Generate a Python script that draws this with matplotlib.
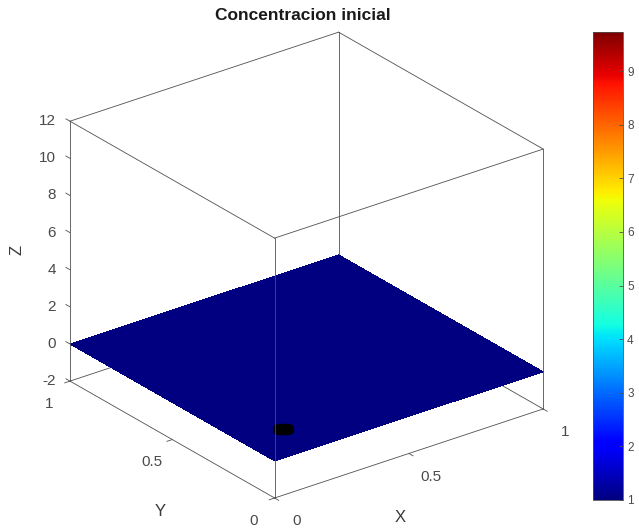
import numpy as np
import matplotlib
matplotlib.use("Agg")
import matplotlib.pyplot as plt
from matplotlib import colors, cm
from matplotlib.path import Path
from mpl_toolkits.mplot3d import proj3d

# ---------------- data ----------------
x_grid = [0.0, 1.0]
y_grid = [0.0, 1.0]
z_surface = [[0.0, 0.0], [0.0, 0.0]]
surface_value = 1.0            # colour value of the flat surface (colormap minimum)
source_x = [0.15]              # small dark spot on the surface
source_y = [0.155]
source_z = [0.0]
x_ticks = [0, 0.5, 1]
y_ticks = [0, 0.5, 1]
z_ticks = [-2, 0, 2, 4, 6, 8, 10, 12]
x_tick_labels = ["0", "0.5", "1"]
y_tick_labels = ["0", "0.5", "1"]
z_tick_labels = ["-2", "0", "2", "4", "6", "8", "10", "12"]
cbar_min, cbar_max = 1.0, 9.73
cbar_ticks = [1, 2, 3, 4, 5, 6, 7, 8, 9]
title_text = "Concentracion inicial"

plt.rcParams["font.family"] = ["Liberation Sans", "DejaVu Sans"]

W, H = 639, 529
fig = plt.figure(figsize=(W / 100, H / 100), dpi=100)
fig.patch.set_facecolor("white")

ax = fig.add_axes([0.05, 0.05, 0.8 * H / W, 0.8], projection="3d",
                  proj_type="ortho", computed_zorder=False)
ax.view_init(elev=25.8, azim=-127.3)
ax.set_box_aspect((1, 1, 0.855))
ax.set_xlim(x_grid[0], x_grid[-1])
ax.set_ylim(y_grid[0], y_grid[-1])
ax.set_zlim(z_ticks[0], z_ticks[-1])
ax.set_axis_off()

# ---- fit the projected box to the layout of the reference ----
def to_px(x, y, z):
    xs, ys, _ = proj3d.proj_transform(x, y, z, ax.get_proj())
    return ax.transData.transform((xs, ys))

fig.canvas.draw()
pos = ax.get_position()
S0 = pos.width * W
O0 = np.array([pos.x0 * W, pos.y0 * H])
xmin, xmax = ax.get_xlim(); ymin, ymax = ax.get_ylim(); zmin, zmax = ax.get_zlim()
corners = {
    "left": (xmin, ymax, zmax), "right": (xmax, ymin, zmax),
    "back": (xmax, ymax, zmax), "front": (xmin, ymin, zmin),
}
f = {k: (to_px(*v) - O0) / S0 for k, v in corners.items()}
tgt_left_x, tgt_right_x = 70, 543
tgt_top_y, tgt_bottom_y = H - 32, H - 498
S1 = 0.5 * ((tgt_right_x - tgt_left_x) / (f["right"][0] - f["left"][0]) +
            (tgt_top_y - tgt_bottom_y) / (f["back"][1] - f["front"][1]))
Ox = tgt_left_x - S1 * f["left"][0]
Oy = tgt_bottom_y - S1 * f["front"][1]
ax.set_position([Ox / W, Oy / H, S1 / W, S1 / H])

# ---------------- surface ----------------
cmap = plt.get_cmap("jet")
norm = colors.Normalize(vmin=cbar_min, vmax=cbar_max)
X, Y = np.meshgrid(x_grid, y_grid)
edge_col = "#505050"
lw = 0.6

back_edges = [
    ((xmax, xmax), (ymax, ymax), (zmin, zmax)),
    ((xmin, xmax), (ymax, ymax), (zmin, zmin)),
    ((xmax, xmax), (ymin, ymax), (zmin, zmin)),
]
for xs_, ys_, zs_ in back_edges:
    ax.plot(xs_, ys_, zs_, color=edge_col, lw=lw, zorder=1)

ax.plot_surface(X, Y, np.array(z_surface), color=cmap(norm(surface_value)),
                shade=False, linewidth=0, antialiased=False, zorder=2)

# rounded blob marker for the source spot
th = np.linspace(0, 2 * np.pi, 60)
bx = np.sign(np.cos(th)) * np.abs(np.cos(th)) ** 0.6
by = 0.55 * np.sign(np.sin(th)) * np.abs(np.sin(th)) ** 0.6
blob = Path(np.column_stack([bx, by]), closed=True)
ax.plot(source_x, source_y, source_z, linestyle="none", marker=blob,
        markersize=15, color="black", markeredgewidth=0, zorder=3)

front_edges = [
    ((xmin, xmax), (ymax, ymax), (zmax, zmax)),
    ((xmax, xmax), (ymin, ymax), (zmax, zmax)),
    ((xmin, xmax), (ymin, ymin), (zmax, zmax)),
    ((xmin, xmin), (ymin, ymax), (zmax, zmax)),
    ((xmin, xmin), (ymax, ymax), (zmin, zmax)),
    ((xmin, xmin), (ymin, ymin), (zmin, zmax)),
    ((xmax, xmax), (ymin, ymin), (zmin, zmax)),
    ((xmin, xmax), (ymin, ymin), (zmin, zmin)),
    ((xmin, xmin), (ymin, ymax), (zmin, zmin)),
]
for xs_, ys_, zs_ in front_edges:
    ax.plot(xs_, ys_, zs_, color=edge_col, lw=lw, zorder=4)

# ---------------- ticks and tick labels ----------------
tick_col = "#4a4a4a"
fs = 11
tl = 0.02
for t, lab in zip(x_ticks, x_tick_labels):
    ax.plot((t, t), (ymin, ymin - tl), (zmin, zmin), color=edge_col, lw=lw, zorder=4)
    ax.text(t + 0.01, ymin - 0.095, zmin - 0.7, lab, ha="center", va="center",
            fontsize=fs, color=tick_col)
for t, lab in zip(y_ticks, y_tick_labels):
    ax.plot((xmin, xmin - tl), (t, t), (zmin, zmin), color=edge_col, lw=lw, zorder=4)
    ax.text(xmin - 0.085, t - 0.01, zmin - 0.75, lab, ha="center", va="center",
            fontsize=fs, color=tick_col)
for t, lab in zip(z_ticks, z_tick_labels):
    ax.plot((xmin, xmin), (ymax, ymax + tl), (t, t), color=edge_col, lw=lw, zorder=4)
    ax.text(xmin - 0.033, ymax + 0.025, t, lab, ha="right", va="center",
            fontsize=fs, color=tick_col)

# axis labels and title
lab_col = "#3a3a3a"
fig.text(17 / W, 1 - 250 / H, "Z", rotation=90, ha="center", va="center",
         fontsize=12, color=lab_col)
fig.text(160 / W, 1 - 511 / H, "Y", ha="center", va="center",
         fontsize=12, color=lab_col)
fig.text(400 / W, 1 - 518 / H, "X", ha="center", va="center",
         fontsize=12, color=lab_col)
fig.text(303 / W, 1 - 15 / H, title_text, ha="center", va="center",
         fontsize=12.5, fontweight="bold", color="#1a1a1a")

# ---------------- colorbar ----------------
cax = fig.add_axes([593 / W, (H - 500) / H, 30 / W, 468 / H])
sm = cm.ScalarMappable(norm=norm, cmap=cmap)
cb = fig.colorbar(sm, cax=cax, ticks=cbar_ticks)
cb.outline.set_edgecolor(edge_col)
cb.outline.set_linewidth(0.6)
cax.tick_params(direction="in", length=3, width=0.6, color=edge_col,
                labelsize=8.5, labelcolor=tick_col, pad=3)

fig.savefig("out.png", dpi=100, facecolor="white")
